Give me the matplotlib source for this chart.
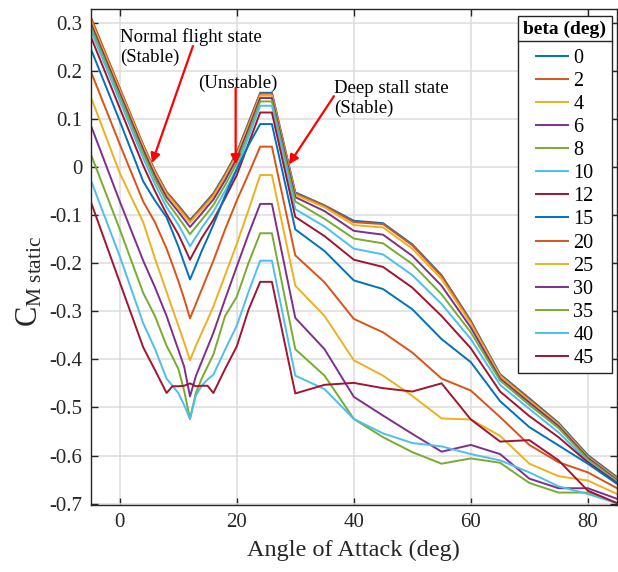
import matplotlib
matplotlib.use('Agg')
import matplotlib.pyplot as plt
from matplotlib.lines import Line2D

# fuentes tipo MATLAB (Times)
plt.rcParams['font.family'] = 'Liberation Serif'
plt.rcParams['mathtext.fontset'] = 'custom'
plt.rcParams['mathtext.rm'] = 'Liberation Serif'
plt.rcParams['mathtext.it'] = 'Liberation Serif:italic'

# datos ---------------------------------------------------------------------
aoa = [-5, 0, 4, 6, 8, 9, 10, 11, 12, 13, 14, 15, 16, 18, 20, 22, 24, 26,
       30, 35, 40, 45, 50, 55, 60, 65, 70, 75, 80, 85]

betas = [0, 2, 4, 6, 8, 10, 12, 15, 20, 25, 30, 35, 40, 45]

cm_b0 = [0.310, 0.162, 0.045, -0.008, -0.052, -0.066, -0.080, -0.095, -0.110, -0.097, -0.083, -0.069, -0.055, -0.015, 0.030, 0.092, 0.154, 0.154,
         -0.053, -0.080, -0.112, -0.117, -0.161, -0.225, -0.320, -0.431, -0.481, -0.532, -0.599, -0.645]
cm_b2 = [0.313, 0.164, 0.046, -0.008, -0.053, -0.067, -0.082, -0.097, -0.112, -0.099, -0.085, -0.071, -0.057, -0.017, 0.028, 0.090, 0.152, 0.152,
         -0.055, -0.081, -0.115, -0.119, -0.163, -0.227, -0.322, -0.433, -0.483, -0.534, -0.601, -0.647]
cm_b4 = [0.306, 0.159, 0.042, -0.012, -0.057, -0.071, -0.086, -0.101, -0.116, -0.102, -0.089, -0.075, -0.061, -0.021, 0.024, 0.085, 0.148, 0.148,
         -0.058, -0.084, -0.121, -0.126, -0.170, -0.233, -0.326, -0.435, -0.486, -0.536, -0.603, -0.649]
cm_b6 = [0.300, 0.153, 0.036, -0.018, -0.063, -0.078, -0.093, -0.109, -0.125, -0.111, -0.097, -0.082, -0.068, -0.028, 0.017, 0.079, 0.143, 0.143,
         -0.063, -0.092, -0.133, -0.141, -0.185, -0.247, -0.334, -0.440, -0.490, -0.539, -0.605, -0.651]
cm_b8 = [0.293, 0.146, 0.028, -0.026, -0.072, -0.088, -0.105, -0.122, -0.140, -0.125, -0.110, -0.095, -0.079, -0.038, 0.008, 0.071, 0.136, 0.136,
         -0.072, -0.108, -0.149, -0.159, -0.202, -0.265, -0.344, -0.444, -0.495, -0.543, -0.608, -0.653]
cm_b10 = [0.285, 0.137, 0.018, -0.036, -0.084, -0.102, -0.120, -0.142, -0.165, -0.146, -0.127, -0.110, -0.093, -0.050, -0.003, 0.062, 0.127, 0.127,
          -0.088, -0.124, -0.170, -0.182, -0.225, -0.285, -0.358, -0.453, -0.503, -0.552, -0.612, -0.655]
cm_b12 = [0.272, 0.122, 0.003, -0.050, -0.098, -0.119, -0.140, -0.166, -0.193, -0.170, -0.148, -0.129, -0.110, -0.065, -0.017, 0.048, 0.113, 0.113,
          -0.104, -0.144, -0.193, -0.208, -0.251, -0.310, -0.377, -0.467, -0.518, -0.562, -0.614, -0.657]
cm_b15 = [0.247, 0.095, -0.030, -0.070, -0.105, -0.135, -0.165, -0.200, -0.234, -0.205, -0.175, -0.148, -0.120, -0.060, -0.005, 0.045, 0.089, 0.089,
          -0.130, -0.175, -0.236, -0.254, -0.296, -0.358, -0.406, -0.487, -0.541, -0.579, -0.617, -0.659]
cm_b20 = [0.200, 0.047, -0.072, -0.115, -0.170, -0.203, -0.237, -0.274, -0.315, -0.285, -0.255, -0.225, -0.195, -0.130, -0.070, -0.015, 0.042, 0.042,
          -0.184, -0.240, -0.316, -0.344, -0.386, -0.440, -0.465, -0.520, -0.578, -0.614, -0.635, -0.668]
cm_b25 = [0.147, -0.013, -0.115, -0.190, -0.260, -0.295, -0.330, -0.365, -0.402, -0.372, -0.345, -0.318, -0.290, -0.225, -0.160, -0.090, -0.017, -0.017,
          -0.247, -0.310, -0.402, -0.434, -0.476, -0.523, -0.525, -0.559, -0.617, -0.643, -0.652, -0.680]
cm_b30 = [0.088, -0.072, -0.195, -0.250, -0.310, -0.345, -0.380, -0.415, -0.477, -0.435, -0.405, -0.375, -0.345, -0.275, -0.207, -0.140, -0.077, -0.077,
          -0.314, -0.379, -0.478, -0.517, -0.555, -0.592, -0.578, -0.597, -0.648, -0.668, -0.668, -0.690]
cm_b35 = [0.028, -0.130, -0.262, -0.310, -0.372, -0.395, -0.420, -0.465, -0.524, -0.470, -0.440, -0.415, -0.390, -0.310, -0.270, -0.200, -0.138, -0.138,
          -0.379, -0.434, -0.524, -0.562, -0.593, -0.617, -0.606, -0.615, -0.657, -0.677, -0.677, -0.699]
cm_b40 = [-0.026, -0.186, -0.325, -0.378, -0.440, -0.455, -0.470, -0.495, -0.524, -0.475, -0.455, -0.442, -0.432, -0.380, -0.330, -0.260, -0.195, -0.195,
          -0.434, -0.462, -0.524, -0.554, -0.574, -0.581, -0.597, -0.610, -0.635, -0.664, -0.680, -0.699]
cm_b45 = [-0.071, -0.240, -0.375, -0.422, -0.470, -0.456, -0.456, -0.455, -0.450, -0.456, -0.455, -0.455, -0.470, -0.420, -0.373, -0.297, -0.239, -0.239,
          -0.471, -0.453, -0.449, -0.460, -0.467, -0.450, -0.525, -0.571, -0.568, -0.610, -0.673, -0.699]

series = [cm_b0, cm_b2, cm_b4, cm_b6, cm_b8, cm_b10, cm_b12,
          cm_b15, cm_b20, cm_b25, cm_b30, cm_b35, cm_b40, cm_b45]

# colores por defecto de MATLAB
colores = ['#0072BD', '#D95319', '#EDB120', '#7E2F8E', '#77AC30', '#4DBEEE', '#A2142F']

# grafica ------------------------------------------------------------------
fig = plt.figure(figsize=(6.18, 5.72), dpi=100)
ax = fig.add_axes([0.1465, 0.117, 0.8520, 0.868])

for i, (b, cm) in enumerate(zip(betas, series)):
    ax.plot(aoa, cm, color=colores[i % 7], lw=1.4, label=str(b))

ax.set_xlim(-5, 85)
ax.set_ylim(-0.703, 0.329)
ax.set_xticks([0, 20, 40, 60, 80])
ax.set_yticks([-0.7, -0.6, -0.5, -0.4, -0.3, -0.2, -0.1, 0, 0.1, 0.2, 0.3])
ax.set_yticklabels(['-0.7', '-0.6', '-0.5', '-0.4', '-0.3', '-0.2', '-0.1', '0', '0.1', '0.2', '0.3'])
ax.grid(True, color='#dcdcdc', lw=1.1)
ax.set_axisbelow(True)
ax.tick_params(direction='in', top=True, right=True, length=5, width=1,
               colors='#262626', labelsize=15, pad=6)
for s in ax.spines.values():
    s.set_color('#262626')
    s.set_linewidth(1)

ax.set_xlabel('Angle of Attack (deg)', fontsize=17.5, color='#262626', labelpad=5)
ax.set_ylabel(r'C$_{\mathrm{M\ static}}$', fontsize=22, color='#262626')
ax.yaxis.set_label_coords(-0.088, 0.45)

# anotaciones con flechas rojas
flecha = dict(arrowstyle='-|>', color='red', lw=1.6, mutation_scale=14, shrinkA=0, shrinkB=0)
ax.annotate('', xy=(5.5, 0.008), xytext=(12.5, 0.251), arrowprops=flecha)
ax.annotate('', xy=(19.8, 0.005), xytext=(19.8, 0.164), arrowprops=flecha)
ax.annotate('', xy=(28.9, 0.005), xytext=(36.6, 0.147), arrowprops=flecha)
ax.text(0.1, 0.289, 'Normal flight state\n(Stable)', fontsize=13.5, va='top', ha='left',
        linespacing=1.25)
ax.text(13.4, 0.192, '(Unstable)', fontsize=13.5, va='top', ha='left')
ax.text(36.6, 0.180, 'Deep stall state\n(Stable)', fontsize=13.5, va='top', ha='left',
        linespacing=1.2)

# leyenda
leg = ax.legend(title='beta (deg)', loc='upper right', bbox_to_anchor=(0.9896, 0.986),
                borderaxespad=0, fontsize=14.5, frameon=True, fancybox=False,
                edgecolor='#262626', framealpha=1, handlelength=1.6,
                handletextpad=0.25, labelspacing=0.2, borderpad=0.26)
leg.get_title().set_fontweight('bold')
leg.get_title().set_fontsize(14)
leg.get_frame().set_linewidth(1)
# mas espacio entre titulo y entradas, como en MATLAB
leg._legend_box.sep = 7.5

# linea bajo el titulo de la leyenda
fig.canvas.draw()
bb = leg.get_window_extent()
tb = leg.get_title().get_window_extent()
y_sep = tb.y0 - 3
fig.add_artist(Line2D([bb.x0, bb.x1], [y_sep, y_sep], transform=None,
                      color='#262626', lw=1))

fig.savefig('out.png', dpi=100)
